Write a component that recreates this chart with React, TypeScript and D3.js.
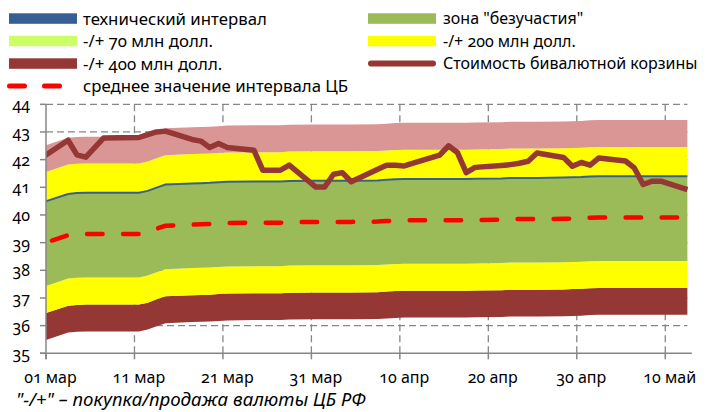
import React, { useEffect, useRef } from "react";
import * as d3 from "d3";

// даты официального курса (первая точка уходит за левый край оси)
const dates = [
  "2014-02-28", "2014-03-03", "2014-03-04", "2014-03-05", "2014-03-06", "2014-03-07",
  "2014-03-11", "2014-03-12", "2014-03-13", "2014-03-14", "2014-03-17", "2014-03-18",
  "2014-03-19", "2014-03-20", "2014-03-21", "2014-03-24", "2014-03-25", "2014-03-26",
  "2014-03-27", "2014-03-28", "2014-03-31", "2014-04-01", "2014-04-02", "2014-04-03",
  "2014-04-04", "2014-04-07", "2014-04-08", "2014-04-09", "2014-04-10", "2014-04-11",
  "2014-04-14", "2014-04-15", "2014-04-16", "2014-04-17", "2014-04-18", "2014-04-21",
  "2014-04-22", "2014-04-23", "2014-04-24", "2014-04-25", "2014-04-28", "2014-04-29",
  "2014-04-30", "2014-05-01", "2014-05-02", "2014-05-05", "2014-05-06", "2014-05-07",
  "2014-05-08", "2014-05-09", "2014-05-12",
];

// стоимость бивалютной корзины
const basket = [
  42.06, 42.7, 42.17, 42.09, 42.43, 42.78,
  42.8, 42.9, 43.0, 43.03, 42.73, 42.67,
  42.44, 42.58, 42.44, 42.34, 41.62, 41.62,
  41.62, 41.8, 41.01, 41.01, 41.47, 41.53,
  41.2, 41.65, 41.8, 41.8, 41.77, 41.87,
  42.16, 42.5, 42.26, 41.53, 41.72, 41.79,
  41.82, 41.87, 41.94, 42.24, 42.08, 41.76,
  41.9, 41.8, 42.06, 41.95, 41.7, 41.1,
  41.22, 41.22, 40.92,
];

// среднее значение интервала ЦБ
const cbMid = [
  38.95, 39.27, 39.3, 39.31, 39.31, 39.31,
  39.31, 39.38, 39.5, 39.61, 39.65, 39.66,
  39.67, 39.69, 39.71, 39.72, 39.72, 39.72,
  39.72, 39.74, 39.75, 39.75, 39.75, 39.75,
  39.75, 39.76, 39.78, 39.8, 39.81, 39.81,
  39.81, 39.81, 39.81, 39.81, 39.82, 39.83,
  39.85, 39.85, 39.85, 39.85, 39.86, 39.87,
  39.88, 39.9, 39.91, 39.91, 39.91, 39.91,
  39.91, 39.91, 39.91,
];

// границы диапазонов относительно середины интервала, руб.
const zoneBelow = 1.57;
const zoneAbove = 1.49;
const band200 = 2.55;
const band400 = 3.52;

const yTicks = [35, 36, 37, 38, 39, 40, 41, 42, 43, 44];
const xTickDates = ["2014-03-01", "2014-03-11", "2014-03-21", "2014-03-31", "2014-04-10", "2014-04-20", "2014-04-30", "2014-05-10"];
const xTickLabels = ["01 мар", "11 мар", "21 мар", "31 мар", "10 апр", "20 апр", "30 апр", "10 май"];
const xStart = "2014-03-01";
const xEnd = "2014-05-13";

const legendLabels = [
  "технический интервал", "зона \"безучастия\"",
  "-/+ 70 млн долл.", "-/+ 200 млн долл.",
  "-/+ 400 млн долл.", "Стоимость бивалютной корзины",
  "среднее значение интервала ЦБ",
];
const footnote = "\"-/+\" – покупка/продажа валюты ЦБ РФ";

const W = 707;
const H = 412;
const FONT = "'Noto Sans', 'Open Sans', sans-serif";

const App = () => {
  const ref = useRef<SVGSVGElement>(null);

  useEffect(() => {
    const svg = d3.select(ref.current);
    svg.selectAll("*").remove();

    const parse = d3.utcParse("%Y-%m-%d");
    const x = d3.scaleUtc()
      .domain([parse(xStart)!, parse(xEnd)!])
      .range([46, 691.8]);
    const y = d3.scaleLinear().domain([35, 44]).range([353.3, 104.3]);

    const pts = dates.map((d, i) => ({
      t: d3.utcHour.offset(parse(d)!, 12),
      b: basket[i],
      m: cbMid[i],
    }));
    const plotRight = x(pts[pts.length - 1].t);
    const grey = "#868686";

    svg.append("defs").append("clipPath").attr("id", "plotclip")
      .append("rect").attr("x", 46).attr("y", 0).attr("width", W - 46).attr("height", H);

    // сетка
    const grid = svg.append("g").attr("stroke", grey).attr("stroke-width", 1.3)
      .attr("stroke-dasharray", "7 4");
    grid.selectAll("line.h").data(yTicks.slice(1)).join("line")
      .attr("x1", 46).attr("x2", plotRight)
      .attr("y1", d => y(d)).attr("y2", d => y(d));
    grid.selectAll("line.v").data(xTickDates.slice(1)).join("line")
      .attr("x1", d => x(parse(d)!)).attr("x2", d => x(parse(d)!))
      .attr("y1", y(44)).attr("y2", y(35));

    // диапазоны
    const plot = svg.append("g").attr("clip-path", "url(#plotclip)");
    const bands: [number, number, string][] = [
      [-band400, -band200, "#953735"],
      [-band200, -zoneBelow, "#ffff00"],
      [-zoneBelow, zoneAbove, "#9bbb59"],
      [zoneAbove, band200, "#ffff00"],
      [band200, band400, "#d99694"],
    ];
    bands.forEach(([lo, hi, color]) => {
      const area = d3.area<typeof pts[0]>()
        .x(d => x(d.t))
        .y0(d => y(d.m + lo))
        .y1(d => y(d.m + hi));
      plot.append("path").datum(pts).attr("d", area).attr("fill", color);
    });

    const line = (f: (d: typeof pts[0]) => number) =>
      d3.line<typeof pts[0]>().x(d => x(d.t)).y(d => y(f(d)));

    // технический интервал
    plot.append("path").datum(pts).attr("d", line(d => d.m + zoneAbove))
      .attr("fill", "none").attr("stroke", "#376092").attr("stroke-width", 2);

    // среднее значение
    plot.append("path").datum(pts).attr("d", line(d => d.m))
      .attr("fill", "none").attr("stroke", "#ff0000").attr("stroke-width", 4.5)
      .attr("stroke-linecap", "round").attr("stroke-dasharray", "15.5 20.5")
      .attr("stroke-dashoffset", -11);

    // корзина
    plot.append("path").datum(pts).attr("d", line(d => d.b))
      .attr("fill", "none").attr("stroke", "#953735").attr("stroke-width", 5.5)
      .attr("stroke-linejoin", "round");

    // оси
    const axes = svg.append("g").attr("stroke", grey).attr("stroke-width", 1.5);
    axes.append("line").attr("x1", 46).attr("x2", 46).attr("y1", y(44)).attr("y2", y(35) + 6);
    axes.append("line").attr("x1", 40).attr("x2", x(parse(xEnd)!)).attr("y1", y(35)).attr("y2", y(35));
    axes.selectAll("line.yt").data(yTicks).join("line")
      .attr("x1", 40).attr("x2", 46).attr("y1", d => y(d)).attr("y2", d => y(d));
    axes.selectAll("line.xt").data(xTickDates).join("line")
      .attr("x1", d => x(parse(d)!)).attr("x2", d => x(parse(d)!))
      .attr("y1", y(35)).attr("y2", y(35) + 6);

    const labels = svg.append("g").attr("font-family", FONT).attr("font-size", 16)
      .attr("fill", "#000").style("font-variant-numeric", "oldstyle-nums");
    labels.selectAll("text.y").data(yTicks).join("text")
      .attr("x", 30).attr("y", d => y(d)).attr("dy", "0.38em")
      .attr("text-anchor", "end").text(d => d);
    labels.selectAll("text.x").data(xTickDates).join("text")
      .attr("x", d => x(d3.utcHour.offset(parse(d)!, 12))).attr("y", 383)
      .attr("text-anchor", "middle").text((d, i) => xTickLabels[i]);

    // легенда
    const leg = svg.append("g").attr("font-family", FONT)
      .style("font-variant-numeric", "oldstyle-nums");
    const rows = [18.5, 41, 63.5, 86];
    const cols = [9, 368];
    const swatch = ["#376092", "#9bbb59", "#ccff66", "#ffff00", "#953735"];
    swatch.forEach((c, i) => {
      const cx = cols[i % 2];
      const cy = rows[Math.floor(i / 2)];
      leg.append("rect").attr("x", cx).attr("y", cy - 5.2).attr("width", 68).attr("height", 10.5).attr("fill", c);
    });
    leg.append("line").attr("x1", 371).attr("x2", 433).attr("y1", rows[2]).attr("y2", rows[2])
      .attr("stroke", "#953735").attr("stroke-width", 6).attr("stroke-linecap", "round");
    leg.append("line").attr("x1", 9.5).attr("x2", 60).attr("y1", rows[3]).attr("y2", rows[3])
      .attr("stroke", "#ff0000").attr("stroke-width", 5).attr("stroke-linecap", "round")
      .attr("stroke-dasharray", "15 20");
    legendLabels.forEach((t, i) => {
      leg.append("text").attr("x", i % 2 ? 443 : 83).attr("y", rows[Math.floor(i / 2)])
        .attr("font-size", i % 2 ? 16 : 16.8)
        .attr("dy", "0.36em").text(t);
    });

    svg.append("text").attr("x", 16).attr("y", 406.2).attr("font-family", FONT)
      .attr("font-size", 18.7).attr("font-style", "italic").text(footnote);
  }, []);

  return (
    <svg ref={ref} width={W} height={H}
      style={{ position: "absolute", left: 0, top: 0, background: "#fff" }} />
  );
};

export default App;
